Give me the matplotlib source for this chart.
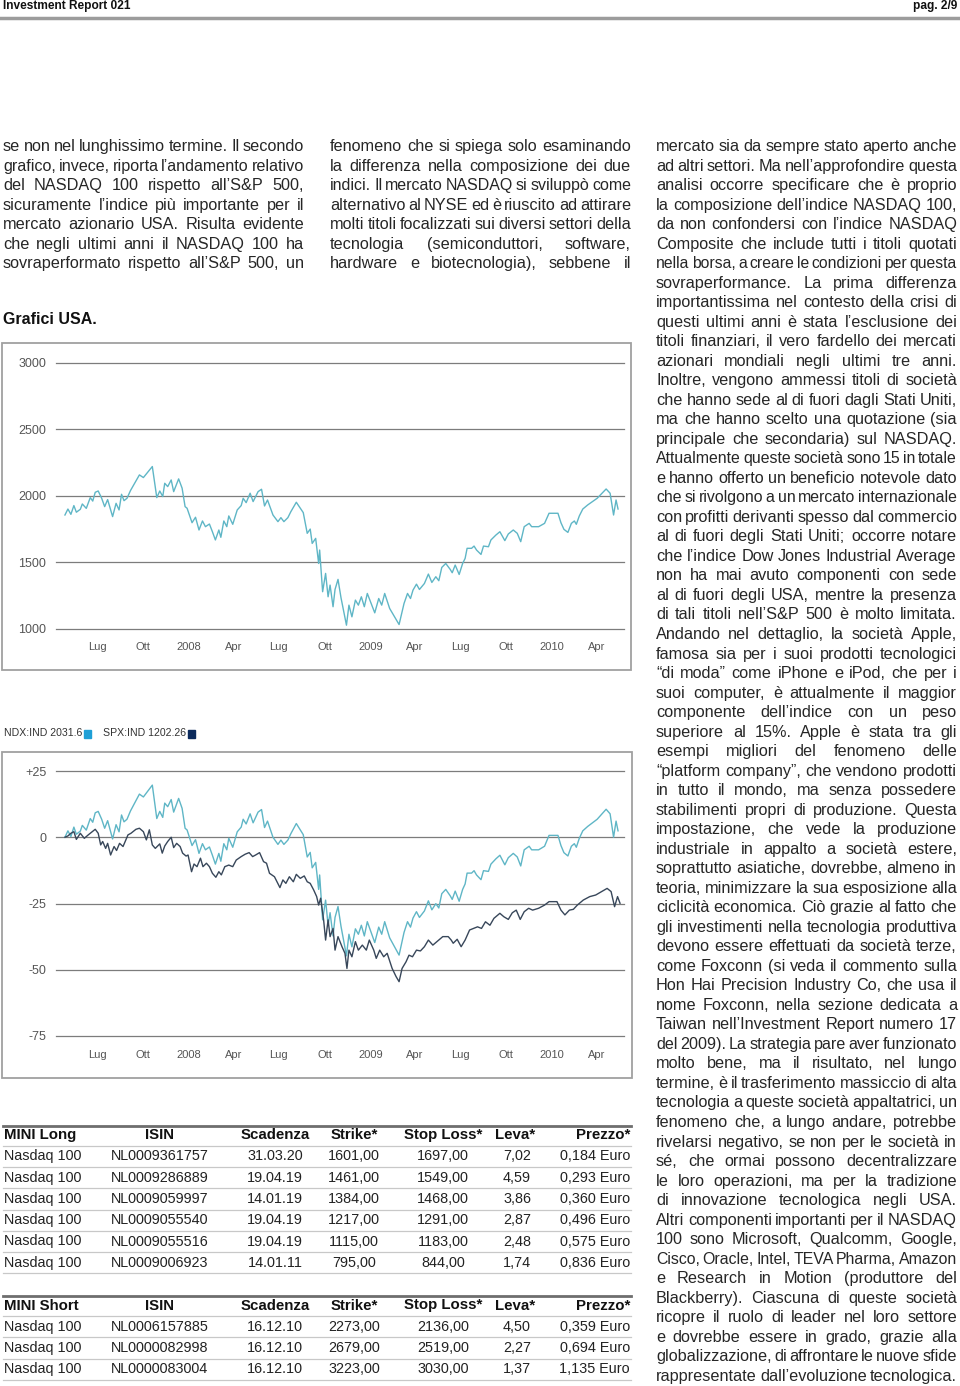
import numpy as np
import pandas as pd
import matplotlib
matplotlib.use('Agg')
import matplotlib.pyplot as plt
import matplotlib.dates as mdates
from matplotlib.patches import Rectangle

W, H = 960, 1386
BODY = ['Liberation Sans', 'DejaVu Sans']

# --- chart data -------------------------------------------------------
ndx_dates = ['2007-04-27', '2007-05-03', '2007-05-09', '2007-05-15', '2007-05-20', '2007-05-28',
             '2007-06-01', '2007-06-09', '2007-06-17', '2007-06-22', '2007-06-27', '2007-07-03',
             '2007-07-10', '2007-07-16', '2007-07-22', '2007-08-01', '2007-08-08', '2007-08-14',
             '2007-08-19', '2007-08-24', '2007-08-30', '2007-09-06', '2007-09-24', '2007-10-02',
             '2007-10-20', '2007-10-29', '2007-11-04', '2007-11-10', '2007-11-14', '2007-11-20',
             '2007-11-27', '2007-12-02', '2007-12-12', '2007-12-19', '2007-12-25', '2007-12-29',
             '2008-01-08', '2008-01-15', '2008-01-22', '2008-01-29', '2008-02-04', '2008-02-12',
             '2008-02-18', '2008-02-24', '2008-03-02', '2008-03-06', '2008-03-12', '2008-03-18',
             '2008-03-22', '2008-03-30', '2008-04-08', '2008-04-16', '2008-04-20', '2008-04-26',
             '2008-05-04', '2008-05-10', '2008-05-20', '2008-05-27', '2008-06-02', '2008-06-08',
             '2008-06-19', '2008-06-29', '2008-07-05', '2008-07-11', '2008-07-19', '2008-07-25',
             '2008-08-05', '2008-08-19', '2008-08-27', '2008-09-02', '2008-09-06', '2008-09-13',
             '2008-09-19', '2008-09-21', '2008-09-27', '2008-10-03', '2008-10-08', '2008-10-12',
             '2008-10-18', '2008-10-22', '2008-10-28', '2008-11-03', '2008-11-14', '2008-11-19',
             '2008-11-25', '2008-12-02', '2008-12-08', '2008-12-14', '2008-12-20', '2008-12-26',
             '2009-01-04', '2009-01-10', '2009-01-18', '2009-01-24', '2009-01-30', '2009-02-09',
             '2009-02-28', '2009-03-10', '2009-03-17', '2009-03-23', '2009-03-28', '2009-04-04',
             '2009-04-10', '2009-04-20', '2009-04-28', '2009-05-05', '2009-05-13', '2009-05-19',
             '2009-05-25', '2009-06-02', '2009-06-11', '2009-06-15', '2009-06-21', '2009-06-29',
             '2009-07-06', '2009-07-11', '2009-07-15', '2009-07-24', '2009-07-29', '2009-08-03',
             '2009-08-12', '2009-08-17', '2009-08-27', '2009-09-01', '2009-09-11', '2009-09-19',
             '2009-09-29', '2009-10-06', '2009-10-16', '2009-10-24', '2009-10-31', '2009-11-07',
             '2009-11-17', '2009-11-22', '2009-12-06', '2009-12-18', '2009-12-27', '2010-01-14',
             '2010-01-20', '2010-01-26', '2010-02-03', '2010-02-10', '2010-02-16', '2010-02-20',
             '2010-02-26', '2010-03-05', '2010-03-15', '2010-04-03', '2010-04-21', '2010-04-29',
             '2010-05-06', '2010-05-11', '2010-05-15']
ndx_vals = [1855, 1900, 1860, 1926, 1876, 1898,
            1938, 1905, 1986, 1960, 2026, 2036,
            1981, 1918, 1971, 1843, 1943, 1893,
            2011, 1963, 1981, 2039, 2157, 2137,
            2220, 1986, 2036, 1994, 2094, 2069,
            2119, 2031, 2127, 2057, 1918, 1906,
            1797, 1838, 1742, 1810, 1767, 1787,
            1729, 1667, 1742, 1687, 1810, 1767,
            1848, 1785, 1893, 1926, 1981, 1948,
            2019, 1956, 2031, 2049, 1923, 1968,
            1855, 1805, 1835, 1805, 1835, 1880,
            1951, 1873, 1717, 1749, 1641, 1679,
            1490, 1591, 1277, 1415, 1239, 1327,
            1164, 1294, 1370, 1232, 1025, 1176,
            1088, 1214, 1176, 1239, 1164, 1264,
            1176, 1118, 1226, 1176, 1264, 1151,
            1030, 1189, 1264, 1226, 1289, 1334,
            1294, 1339, 1410, 1347, 1390, 1360,
            1460, 1490, 1445, 1420, 1478, 1407,
            1490, 1528, 1604, 1604, 1621, 1591,
            1558, 1621, 1616, 1667, 1704, 1729,
            1662, 1712, 1742, 1717, 1654, 1767,
            1792, 1767, 1767, 1792, 1868, 1868,
            1797, 1747, 1724, 1792, 1810, 1785,
            1848, 1900, 1931, 1981, 2051, 2019,
            1855, 1968, 1900]

spx_dates = ['2007-04-27', '2007-05-03', '2007-05-09', '2007-05-15', '2007-05-20', '2007-05-28',
             '2007-06-05', '2007-06-13', '2007-06-21', '2007-06-27', '2007-07-03', '2007-07-08',
             '2007-07-12', '2007-07-18', '2007-07-22', '2007-07-28', '2007-08-04', '2007-08-09',
             '2007-08-15', '2007-08-22', '2007-09-01', '2007-09-07', '2007-09-17', '2007-09-24',
             '2007-10-02', '2007-10-08', '2007-10-14', '2007-10-20', '2007-10-26', '2007-11-04',
             '2007-11-09', '2007-11-14', '2007-11-20', '2007-11-27', '2007-12-02', '2007-12-08',
             '2007-12-15', '2007-12-20', '2007-12-27', '2007-12-31', '2008-01-07', '2008-01-12',
             '2008-01-18', '2008-01-25', '2008-01-30', '2008-02-06', '2008-02-12', '2008-02-18',
             '2008-02-25', '2008-03-02', '2008-03-07', '2008-03-14', '2008-03-22', '2008-03-30',
             '2008-04-06', '2008-04-16', '2008-04-24', '2008-05-02', '2008-05-09', '2008-05-15',
             '2008-05-23', '2008-05-31', '2008-06-06', '2008-06-12', '2008-06-22', '2008-07-03',
             '2008-07-09', '2008-07-15', '2008-07-22', '2008-07-30', '2008-08-05', '2008-08-13',
             '2008-08-21', '2008-08-27', '2008-09-02', '2008-09-09', '2008-09-15', '2008-09-19',
             '2008-09-23', '2008-09-29', '2008-10-03', '2008-10-08', '2008-10-12', '2008-10-18',
             '2008-10-22', '2008-10-28', '2008-11-05', '2008-11-11', '2008-11-15', '2008-11-19',
             '2008-11-25', '2008-12-02', '2008-12-08', '2008-12-16', '2008-12-24', '2008-12-30',
             '2009-01-08', '2009-01-13', '2009-01-20', '2009-01-28', '2009-02-04', '2009-02-14',
             '2009-02-22', '2009-02-28', '2009-03-06', '2009-03-14', '2009-03-20', '2009-03-27',
             '2009-04-04', '2009-04-12', '2009-04-20', '2009-04-28', '2009-05-07', '2009-05-15',
             '2009-05-27', '2009-06-07', '2009-06-13', '2009-06-17', '2009-06-25', '2009-07-03',
             '2009-07-11', '2009-07-20', '2009-07-28', '2009-08-05', '2009-08-13', '2009-08-21',
             '2009-08-30', '2009-09-07', '2009-09-19', '2009-09-27', '2009-10-06', '2009-10-14',
             '2009-10-22', '2009-10-30', '2009-11-07', '2009-11-16', '2009-11-24', '2009-12-06',
             '2009-12-18', '2009-12-27', '2010-01-12', '2010-01-20', '2010-01-28', '2010-02-06',
             '2010-02-14', '2010-02-22', '2010-03-06', '2010-03-19', '2010-03-31', '2010-04-12',
             '2010-04-23', '2010-05-01', '2010-05-08', '2010-05-14', '2010-05-19']
spx_pct = [0.0, 0.5, 1.5, 2.1, -0.8, 1.5,
           -0.4, 0.9, 2.1, 3.0, 1.5, -2.9,
           -1.6, -4.2, -2.3, -6.7, -3.5, -5.0,
           -2.3, -3.5, 0.9, 1.5, 3.0, 3.4,
           2.1, -1.0, 2.8, -2.9, -4.2, -2.5,
           -6.0, -3.3, -1.6, 0.0, -3.9, -2.3,
           -3.5, -6.0, -7.1, -6.7, -13.0, -10.1,
           -11.1, -7.9, -11.1, -9.8, -11.1, -13.6,
           -15.1, -13.0, -14.2, -11.1, -10.5, -11.1,
           -8.6, -7.3, -6.4, -5.8, -7.3, -6.7,
           -5.8, -9.2, -9.8, -13.6, -14.9, -19.0,
           -16.1, -17.4, -14.9, -16.8, -14.0, -15.5,
           -14.6, -16.8, -17.4, -19.9, -22.4, -25.6,
           -23.0, -31.2, -38.8, -31.2, -37.5, -34.4,
           -42.6, -37.5, -41.3, -43.8, -49.5, -42.6,
           -45.1, -39.4, -42.6, -40.7, -42.6, -38.8,
           -42.6, -45.7, -42.6, -45.1, -43.8, -49.5,
           -52.6, -54.5, -49.5, -47.0, -44.5, -45.1,
           -42.6, -42.9, -41.3, -38.8, -40.7, -39.4,
           -37.5, -37.5, -38.8, -40.0, -38.5, -41.3,
           -38.8, -35.0, -34.4, -33.8, -34.4, -31.9,
           -33.2, -30.6, -28.7, -30.0, -31.0, -28.5,
           -27.5, -31.0, -28.1, -26.8, -27.5, -26.8,
           -25.6, -24.3, -24.3, -27.5, -29.3, -27.5,
           -27.2, -25.6, -23.7, -22.4, -21.8, -20.5,
           -19.3, -20.5, -26.2, -22.4, -24.9]

tick_dates = ['2007-07-01', '2007-10-01', '2008-01-01', '2008-04-01', '2008-07-01', '2008-10-01',
              '2009-01-01', '2009-04-01', '2009-07-01', '2009-10-01', '2010-01-01', '2010-04-01']
tick_labels = ['Lug', 'Ott', '2008', 'Apr', 'Lug', 'Ott', '2009', 'Apr', 'Lug', 'Ott', '2010', 'Apr']
x_range = ['2007-04-09', '2010-05-27']
ticks1 = [1000, 1500, 2000, 2500, 3000]
ticks2 = [-75, -50, -25, 0, 25]
ticklab2 = ['-75', '-50', '-25', '0', '+25']

legend_items = [('NDX:IND 2031.6', '#1e9fd6'), ('SPX:IND 1202.26', '#0c2a5c')]

# --- tables -----------------------------------------------------------
table_cols = ['ISIN', 'Scadenza', 'Strike*', 'Stop Loss*', 'Leva*', 'Prezzo*']
long_rows = [
    ['Nasdaq 100', 'NL0009361757', '31.03.20', '1601,00', '1697,00', '7,02', '0,184 Euro'],
    ['Nasdaq 100', 'NL0009286889', '19.04.19', '1461,00', '1549,00', '4,59', '0,293 Euro'],
    ['Nasdaq 100', 'NL0009059997', '14.01.19', '1384,00', '1468,00', '3,86', '0,360 Euro'],
    ['Nasdaq 100', 'NL0009055540', '19.04.19', '1217,00', '1291,00', '2,87', '0,496 Euro'],
    ['Nasdaq 100', 'NL0009055516', '19.04.19', '1115,00', '1183,00', '2,48', '0,575 Euro'],
    ['Nasdaq 100', 'NL0009006923', '14.01.11', '795,00', '844,00', '1,74', '0,836 Euro'],
]
short_rows = [
    ['Nasdaq 100', 'NL0006157885', '16.12.10', '2273,00', '2136,00', '4,50', '0,359 Euro'],
    ['Nasdaq 100', 'NL0000082998', '16.12.10', '2679,00', '2519,00', '2,27', '0,694 Euro'],
    ['Nasdaq 100', 'NL0000083004', '16.12.10', '3223,00', '3030,00', '1,37', '1,135 Euro'],
]

# --- body text --------------------------------------------------------
text_left = [
    'se non nel lunghissimo termine. Il secondo',
    'grafico, invece, riporta l’andamento relativo',
    'del NASDAQ 100 rispetto all’S&P 500,',
    'sicuramente l’indice più importante per il',
    'mercato azionario USA. Risulta evidente',
    'che negli ultimi anni il NASDAQ 100 ha',
    'sovraperformato rispetto all’S&P 500, un',
]
text_mid = [
    'fenomeno che si spiega solo esaminando',
    'la differenza nella composizione dei due',
    'indici. Il mercato NASDAQ si sviluppò come',
    'alternativo al NYSE ed è riuscito ad attirare',
    'molti titoli focalizzati sui diversi settori della',
    'tecnologia (semiconduttori, software,',
    'hardware e biotecnologia), sebbene il',
]
text_right = [
    'mercato sia da sempre stato aperto anche',
    'ad altri settori. Ma nell’approfondire questa',
    'analisi occorre specificare che è proprio',
    'la composizione dell’indice NASDAQ 100,',
    'da non confondersi con l’indice NASDAQ',
    'Composite che include tutti i titoli quotati',
    'nella borsa, a creare le condizioni per questa',
    'sovraperformance. La prima differenza',
    'importantissima nel contesto della crisi di',
    'questi ultimi anni è stata l’esclusione dei',
    'titoli finanziari, il vero fardello dei mercati',
    'azionari mondiali negli ultimi tre anni.',
    'Inoltre, vengono ammessi titoli di società',
    'che hanno sede al di fuori dagli Stati Uniti,',
    'ma che hanno scelto una quotazione (sia',
    'principale che secondaria) sul NASDAQ.',
    'Attualmente queste società sono 15 in totale',
    'e hanno offerto un beneficio notevole dato',
    'che si rivolgono a un mercato internazionale',
    'con profitti derivanti spesso dal commercio',
    'al di fuori degli Stati Uniti; occorre notare',
    'che l’indice Dow Jones Industrial Average',
    'non ha mai avuto componenti con sede',
    'al di fuori degli USA, mentre la presenza',
    'di tali titoli nell’S&P 500 è molto limitata.',
    'Andando nel dettaglio, la società Apple,',
    'famosa sia per i suoi prodotti tecnologici',
    '“di moda” come iPhone e iPod, che per i',
    'suoi computer, è attualmente il maggior',
    'componente dell’indice con un peso',
    'superiore al 15%. Apple è stata tra gli',
    'esempi migliori del fenomeno delle',
    '“platform company”, che vendono prodotti',
    'in tutto il mondo, ma senza possedere',
    'stabilimenti propri di produzione. Questa',
    'impostazione, che vede la produzione',
    'industriale in appalto a società estere,',
    'soprattutto asiatiche, dovrebbe, almeno in',
    'teoria, minimizzare la sua esposizione alla',
    'ciclicità economica. Ciò grazie al fatto che',
    'gli investimenti nella tecnologia produttiva',
    'devono essere effettuati da società terze,',
    'come Foxconn (si veda il commento sulla',
    'Hon Hai Precision Industry Co, che usa il',
    'nome Foxconn, nella sezione dedicata a',
    'Taiwan nell’Investment Report numero 17',
    'del 2009). La strategia pare aver funzionato',
    'molto bene, ma il risultato, nel lungo',
    'termine, è il trasferimento massiccio di alta',
    'tecnologia a queste società appaltatrici, un',
    'fenomeno che, a lungo andare, potrebbe',
    'rivelarsi negativo, se non per le società in',
    'sé, che ormai possono decentralizzare',
    'le loro operazioni, ma per la tradizione',
    'di innovazione tecnologica negli USA.',
    'Altri componenti importanti per il NASDAQ',
    '100 sono Microsoft, Qualcomm, Google,',
    'Cisco, Oracle, Intel, TEVA Pharma, Amazon',
    'e Research in Motion (produttore del',
    'Blackberry). Ciascuna di queste società',
    'ricopre il ruolo di leader nel loro settore',
    'e dovrebbe essere in grado, grazie alla',
    'globalizzazione, di affrontare le nuove sfide',
    'rappresentate dall’evoluzione tecnologica.',
]


def fx(x):
    return x / W


def fy(y):
    return 1 - y / H


fig = plt.figure(figsize=(W / 100, H / 100), dpi=100)
fig.patch.set_facecolor('white')
rend = fig.canvas.get_renderer()


def hline(x0, x1, y, color, lw):
    fig.add_artist(plt.Line2D([fx(x0), fx(x1)], [fy(y), fy(y)], color=color, lw=lw,
                              transform=fig.transFigure))


def frame(x0, y0, x1, y1):
    fig.add_artist(Rectangle((fx(x0), fy(y1)), (x1 - x0) / W, (y1 - y0) / H, fill=False,
                             ec='#a0a0a0', lw=1.3, transform=fig.transFigure))


def justify(lines, x0, x1, y0, pitch, size=11.7):
    for i, line in enumerate(lines):
        words = line.split()
        yb = fy(y0 + i * pitch + 5)
        objs = [fig.text(0, yb, w, fontsize=size, family=BODY, color='#262626', va='baseline')
                for w in words]
        widths = [o.get_window_extent(rend).width for o in objs]
        ngap = max(len(words) - 1, 1)
        need = sum(widths) + ngap * 2.5
        if need > x1 - x0:
            # squeeze tight lines like the typesetter does
            k = (x1 - x0 - ngap * 2.5) / sum(widths)
            for o in objs:
                o.set_fontsize(size * k)
            widths = [o.get_window_extent(rend).width for o in objs]
        gap = (x1 - x0 - sum(widths)) / ngap
        x = x0
        for o, w in zip(objs, widths):
            o.set_x(fx(x))
            x += w + gap


# header
fig.text(fx(3), fy(6.5), 'Investment Report 021', fontsize=8.6, family=BODY, weight='bold',
         va='center', color='#111111')
fig.text(fx(957), fy(6.5), 'pag. 2/9', fontsize=8.6, family=BODY, weight='bold',
         va='center', ha='right', color='#111111')
hline(0, 960, 17.5, '#9c9c9c', 2.5)

justify(text_left, 3, 304, 146, 19.52)
justify(text_mid, 330, 631, 146, 19.52)
justify(text_right, 656, 957, 146, 19.52)
fig.text(fx(3), fy(320), 'Grafici USA.', fontsize=11.5, family=BODY, weight='bold',
         va='center', color='#111111')


def style_axes(ax, ticks, labels, lo, hi):
    ax.set_xlim(mdates.date2num(pd.to_datetime(x_range[0])), mdates.date2num(pd.to_datetime(x_range[1])))
    ax.set_ylim(lo, hi)
    for t in ticks:
        ax.axhline(t, color='#7c7c7c', lw=0.9, clip_on=False, zorder=1)
    ax.set_yticks(ticks)
    ax.set_yticklabels(labels, fontsize=9, family=BODY, color='#555555')
    ax.set_xticks(mdates.date2num(pd.to_datetime(tick_dates)))
    ax.set_xticklabels(tick_labels, fontsize=8, family=BODY, color='#555555')
    ax.tick_params(axis='y', length=0, pad=7)
    ax.tick_params(axis='x', length=0, pad=10)
    for s in ax.spines.values():
        s.set_visible(False)
    ax.patch.set_alpha(0)


# chart 1: NDX level
frame(2, 343, 631, 670)
ax1 = fig.add_axes([fx(56), fy(628.5), (624 - 56) / W, (628.5 - 363) / H])
style_axes(ax1, ticks1, [str(t) for t in ticks1], 1000, 3000)
ndx_x = pd.to_datetime(ndx_dates)
ax1.plot(ndx_x, ndx_vals, color='#5fb6c6', lw=1.0, zorder=3)

# legend line
lx = 4
for label, col in legend_items:
    t = fig.text(fx(lx), fy(733.5), label, fontsize=7.6, family=BODY, va='center', color='#333333')
    wpx = t.get_window_extent(rend).width
    fig.add_artist(Rectangle((fx(lx + wpx + 2), fy(737.5)), 7 / W, 8 / H, color=col,
                             transform=fig.transFigure))
    lx = 103

# chart 2: relative performance
frame(2, 752, 632, 1078)
ax2 = fig.add_axes([fx(56), fy(1036), (624 - 56) / W, (1036 - 771) / H])
style_axes(ax2, ticks2, ticklab2, -75, 25)
ndx_pct = (np.array(ndx_vals) / ndx_vals[0] - 1) * 100
ax2.plot(ndx_x, ndx_pct, color='#5fb6c6', lw=1.0, zorder=3)
ax2.plot(pd.to_datetime(spx_dates), spx_pct, color='#38475a', lw=1.0, zorder=4)

# tables
col_x = [4, 160, 275, 354, 443, 517, 630]
col_ha = ['left', 'center', 'center', 'center', 'center', 'center', 'right']
head_x = [4, 160, 275, 354, 443, 515, 630]


def table(title, rows, top):
    pitch = 21.3
    hline(3, 631, top, '#6e6e6e', 2.0)
    heads = [title] + table_cols
    for x, ha, h in zip(head_x, col_ha, heads):
        fig.text(fx(x), fy(top + 9.5), h, fontsize=10.8, family=BODY, weight='bold',
                 ha=ha, va='center', color='#111111')
    for r, row in enumerate(rows):
        yc = top + 9.5 + pitch * (r + 1)
        hline(3, 631, yc - pitch / 2, '#c8c8c8', 0.9)
        for x, ha, v in zip(col_x, col_ha, row):
            fig.text(fx(x), fy(yc), v, fontsize=10.4, family=BODY, ha=ha, va='center',
                     color='#222222')
    hline(3, 631, top + 9.5 + pitch * len(rows) + pitch / 2, '#c8c8c8', 0.9)


table('MINI Long', long_rows, 1125.5)
table('MINI Short', short_rows, 1296)

fig.savefig('out.png', dpi=100)
